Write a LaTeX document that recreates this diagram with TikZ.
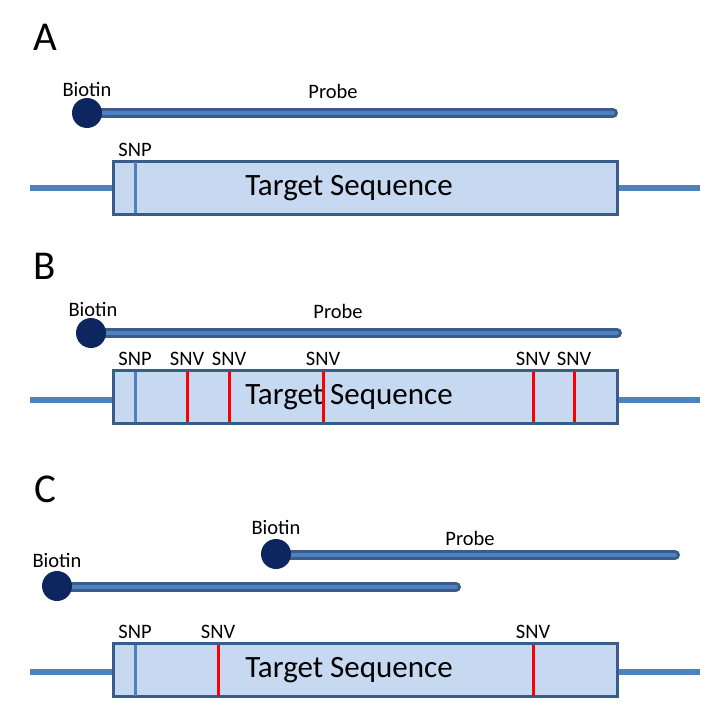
\documentclass[tikz,border=0pt]{standalone}
\usepackage{fontspec}
\setmainfont{Carlito}
\definecolor{biotinnavy}{HTML}{0D2660}
\definecolor{pborder}{HTML}{385D8A}
\definecolor{pinner}{HTML}{4F81BD}
\definecolor{boxfill}{HTML}{C6D9F1}
\definecolor{snvred}{HTML}{FF0000}
\tikzset{
  biotin/.style={circle, fill=biotinnavy, inner sep=0pt, minimum size=30pt},
  probeouter/.style={line width=10pt, color=pborder, line cap=round},
  probeinner/.style={line width=3.5pt, color=pinner, line cap=round},
  target/.style={draw=pborder, fill=boxfill, line width=3pt, minimum width=504pt, minimum height=53pt, inner sep=0pt},
  tail/.style={line width=6pt, color=pinner},
  snpline/.style={line width=3pt, color=pinner},
  snvline/.style={line width=3pt, color=snvred},
  small/.style={font=\fontsize{20.5}{20.5}\selectfont, inner sep=0pt},
  big/.style={font=\fontsize{31}{31}\selectfont, inner sep=0pt},
  panel/.style={font=\fontsize{41}{41}\selectfont, inner sep=0pt, anchor=base}
}
\newcommand{\probeline}[2]{%
  \draw[probeouter] (#1) -- (#2);
  \draw[probeinner] (#1) -- (#2);
}
\begin{document}
\begin{tikzpicture}[x=1pt,y=-1pt]
\useasboundingbox[fill=white] (0,0) rectangle (716,720);

% ---------------- Panel A ----------------
\node[panel] (lA) at (45,50) {A};
\coordinate (pAs) at (100,113);
\coordinate (pAe) at (613,113);
\probeline{pAs}{pAe}
\node[biotin] (bA) at (87,113) {};
\node[small] (tbA) at (87,89) {Biotin};
\node[small] (tpA) at (333,91) {Probe};
\coordinate (lAl) at (30,188);
\coordinate (lAr) at (700,188);
\node[target] (boxA) at (365,188) {};
\draw[tail] (lAl) -- (boxA.west);
\draw[tail] (boxA.east) -- (lAr);
\draw[snpline] (135,162) -- (135,213);
\node[big] (tsA) at (349,188) {Target Sequence};
\node[small] (snpA) at (135,150) {SNP};

% ---------------- Panel B ----------------
\node[panel] (lB) at (45,279) {B};
\coordinate (pBs) at (105,333);
\coordinate (pBe) at (617,333);
\probeline{pBs}{pBe}
\node[biotin] (bB) at (91,333) {};
\node[small] (tbB) at (93,309) {Biotin};
\node[small] (tpB) at (338,311) {Probe};
\coordinate (lBl) at (30,400);
\coordinate (lBr) at (700,400);
\node[target] (boxB) at (365,397) {};
\draw[tail] (lBl) -- (boxB.west |- lBl);
\draw[tail] (boxB.east |- lBr) -- (lBr);
\node[big] (tsB) at (349,397) {Target Sequence};
\draw[snpline] (135,372) -- (135,422);
\foreach \x in {187,229,323,533,574} {
  \draw[snvline] (\x,372) -- (\x,422);
  \node[small] at (\x,359) {SNV};
}
\node[small] (snpB) at (135,359) {SNP};

% ---------------- Panel C ----------------
\node[panel] (lC) at (45,502) {C};
\coordinate (pC1s) at (290,555);
\coordinate (pC1e) at (675,555);
\probeline{pC1s}{pC1e}
\node[biotin] (bC1) at (276,554) {};
\node[small] (tbC1) at (276,527) {Biotin};
\node[small] (tpC) at (470,538) {Probe};
\coordinate (pC2s) at (70,587);
\coordinate (pC2e) at (456,587);
\probeline{pC2s}{pC2e}
\node[biotin] (bC2) at (57,586) {};
\node[small] (tbC2) at (57,560) {Biotin};
\coordinate (lCl) at (30,672);
\coordinate (lCr) at (700,672);
\node[target] (boxC) at (365,670) {};
\draw[tail] (lCl) -- (boxC.west |- lCl);
\draw[tail] (boxC.east |- lCr) -- (lCr);
\node[big] (tsC) at (349,670) {Target Sequence};
\draw[snpline] (135,645) -- (135,696);
\foreach \x in {218,533} {
  \draw[snvline] (\x,645) -- (\x,696);
  \node[small] at (\x,632) {SNV};
}
\node[small] (snpC) at (135,632) {SNP};
\end{tikzpicture}
\end{document}
